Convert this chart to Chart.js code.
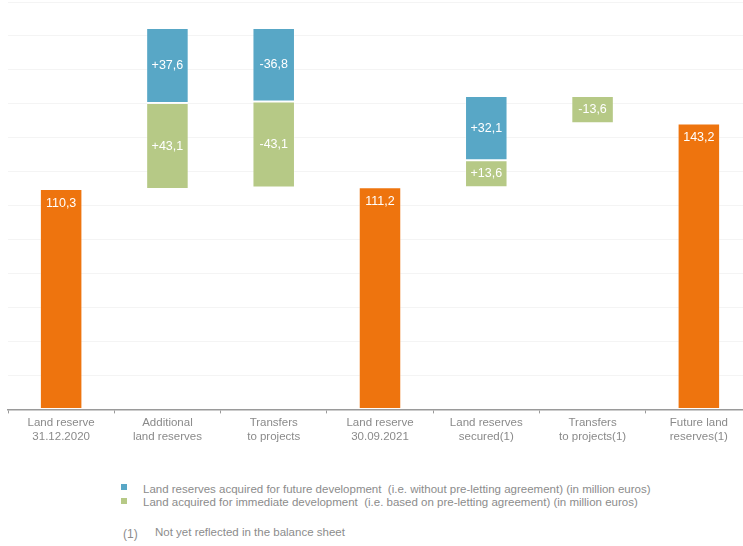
<!DOCTYPE html>
<html>
<head>
<meta charset="utf-8">
<script src="https://cdn.jsdelivr.net/npm/chart.js@4"></script>
<style>
    html, body { margin: 0; padding: 0; background: #fff; overflow: hidden; }
    body { width: 743px; height: 546px; position: relative; font-family: "Liberation Sans", Arial, sans-serif; }
    #wrap { position: absolute; left: 0; top: 0; width: 752px; height: 447px; }
    .leg { position: absolute; font-size: 11.5px; color: #8c8c8c; white-space: pre; }
    .sq { position: absolute; width: 6px; height: 6px; }
</style>
</head>
<body>
<div id="wrap"><canvas id="landChart"></canvas></div>

<div class="sq" style="left:121px; top:484px; background:#58a7c6;"></div>
<div class="leg" id="legFuture" style="left:143px; top:483px;"></div>
<div class="sq" style="left:121px; top:498px; background:#b6c986;"></div>
<div class="leg" id="legImmediate" style="left:143px; top:496px;"></div>
<div class="leg" style="left:123px; top:527px; font-size:12px;">(1)</div>
<div class="leg" style="left:155px; top:526px;">Not yet reflected in the balance sheet</div>

<script>
// kategoriler
const categories = [
    ['Land reserve', '31.12.2020'],
    ['Additional', 'land reserves'],
    ['Transfers', 'to projects'],
    ['Land reserve', '30.09.2021'],
    ['Land reserves', 'secured(1)'],
    ['Transfers', 'to projects(1)'],
    ['Future land', 'reserves(1)']
];

// toplamlar (turuncu)
const totals = [110.3, null, null, 111.2, null, null, 143.2];
// hemen geliştirme (yeşil)
const immediateChanges = [null, 43.1, -43.1, null, 13.6, -13.6, null];
// gelecek geliştirme (mavi)
const futureChanges = [null, 37.6, -36.8, null, 32.1, null, null];

const futureLabel = 'Land reserves acquired for future development  (i.e. without pre-letting agreement) (in million euros)';
const immediateLabel = 'Land acquired for immediate development  (i.e. based on pre-letting agreement) (in million euros)';

document.getElementById('legFuture').textContent = futureLabel;
document.getElementById('legImmediate').textContent = immediateLabel;

// waterfall aralıkları
const totalBars = [], greenBars = [], blueBars = [];
let level = 0;
for (let i = 0; i < categories.length; i++) {
    const g = immediateChanges[i] || 0;
    const b = futureChanges[i] || 0;
    if (totals[i] !== null) {
        level = totals[i];
        totalBars.push([0, totals[i]]);
        greenBars.push(null);
        blueBars.push(null);
        continue;
    }
    totalBars.push(null);
    if (g + b >= 0) {
        greenBars.push(immediateChanges[i] !== null ? [level, level + g] : null);
        blueBars.push(futureChanges[i] !== null ? [level + g, level + g + b] : null);
    } else {
        blueBars.push(futureChanges[i] !== null ? [level, level + b] : null);
        greenBars.push(immediateChanges[i] !== null ? [level + b, level + b + g] : null);
    }
    level = level + g + b;
}

const fmt = (v, signed) => {
    const s = Math.abs(v).toFixed(1).replace('.', ',');
    if (!signed) return s;
    return (v >= 0 ? '+' : '-') + s;
};

const valueLabels = {
    id: 'valueLabels',
    afterDatasetsDraw(chart) {
        const ctx = chart.ctx;
        ctx.save();
        ctx.fillStyle = '#ffffff';
        ctx.textAlign = 'center';
        ctx.textBaseline = 'middle';
        ctx.font = '12.5px "Liberation Sans", Arial, sans-serif';
        const sources = [totals, immediateChanges, futureChanges];
        chart.data.datasets.forEach((ds, di) => {
            const meta = chart.getDatasetMeta(di);
            meta.data.forEach((el, i) => {
                const v = sources[di][i];
                if (v === null || ds.data[i] === null) return;
                const top = Math.min(el.y, el.base);
                const bottom = Math.max(el.y, el.base);
                let y = (top + bottom) / 2;
                if (di === 0) y = top + 14;
                ctx.fillText(fmt(v, di !== 0), el.x, y);
            });
        });
        ctx.restore();
    }
};

const canvasElement = document.getElementById('landChart');
if (canvasElement) {
    new Chart(canvasElement.getContext('2d'), {
        type: 'bar',
        data: {
            labels: categories,
            datasets: [{
                label: 'Land reserve',
                data: totalBars,
                backgroundColor: '#ee740e',
                borderColor: 'rgba(255,255,255,0.35)',
                borderWidth: 1,
                borderSkipped: false
            }, {
                label: immediateLabel,
                data: greenBars,
                backgroundColor: '#b6c986',
                borderColor: 'rgba(255,255,255,0.35)',
                borderWidth: 1,
                borderSkipped: false
            }, {
                label: futureLabel,
                data: blueBars,
                backgroundColor: '#58a7c6',
                borderColor: 'rgba(255,255,255,0.35)',
                borderWidth: 1,
                borderSkipped: false
            }]
        },
        options: {
            responsive: true,
            maintainAspectRatio: false,
            animation: false,
            layout: { padding: { left: 8, right: 0, top: 2, bottom: 0 } },
            plugins: {
                legend: { display: false },
                tooltip: { enabled: false }
            },
            datasets: { bar: { categoryPercentage: 0.4, barPercentage: 1 } },
            scales: {
                x: {
                    stacked: true,
                    grid: {
                        offset: true,
                        drawOnChartArea: false,
                        drawTicks: true,
                        tickLength: 4,
                        color: '#9a9a9a'
                    },
                    border: { color: '#9a9a9a', width: 1.5 },
                    ticks: {
                        color: '#8a8a8a',
                        font: { family: '"Liberation Sans", Arial, sans-serif', size: 11.5 },
                        padding: 3,
                        maxRotation: 0,
                        autoSkip: false
                    }
                },
                y: {
                    stacked: false,
                    min: 0,
                    max: 204,
                    ticks: { display: false, stepSize: 17 },
                    grid: { color: '#f4f4f4', drawTicks: false },
                    border: { display: false }
                }
            }
        },
        plugins: [valueLabels]
    });
} else {
    console.error('Canvas bulunamadı!');
}
</script>
</body>
</html>
